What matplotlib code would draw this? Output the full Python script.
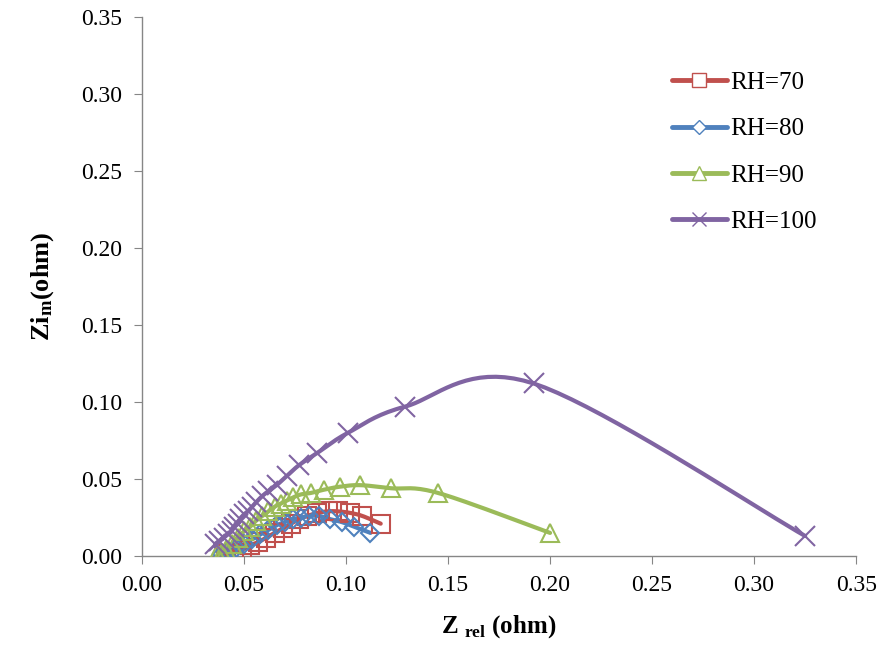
import numpy as np
import matplotlib
matplotlib.use("Agg")
import matplotlib.pyplot as plt

plt.rcParams['font.family'] = ['Liberation Serif', 'DejaVu Serif']
plt.rcParams['mathtext.fontset'] = 'custom'
plt.rcParams['mathtext.rm'] = 'Liberation Serif'
plt.rcParams['mathtext.bf'] = 'Liberation Serif:bold'

# Nyquist data (Z_real, Z_imag) in ohm
rh70_zre = [0.041, 0.045, 0.049, 0.053, 0.057, 0.061, 0.065, 0.069, 0.073, 0.077,
            0.081, 0.086, 0.091, 0.096, 0.102, 0.108, 0.117]
rh70_zim = [0.001, 0.002, 0.004, 0.007, 0.009, 0.012, 0.015, 0.018, 0.021, 0.024,
            0.026, 0.028, 0.029, 0.029, 0.028, 0.026, 0.021]

rh80_zre = [0.039, 0.042, 0.046, 0.050, 0.054, 0.058, 0.062, 0.066, 0.070, 0.074,
            0.078, 0.082, 0.087, 0.092, 0.098, 0.104, 0.112]
rh80_zim = [0.001, 0.003, 0.005, 0.008, 0.011, 0.014, 0.017, 0.020, 0.022, 0.024,
            0.025, 0.026, 0.026, 0.024, 0.022, 0.019, 0.015]

rh90_zre = [0.037, 0.039, 0.041, 0.044, 0.047, 0.050, 0.053, 0.056, 0.059, 0.062,
            0.065, 0.068, 0.071, 0.074, 0.078, 0.083, 0.089, 0.097, 0.107, 0.122,
            0.145, 0.200]
rh90_zim = [0.001, 0.002, 0.004, 0.008, 0.012, 0.016, 0.019, 0.023, 0.026, 0.029,
            0.032, 0.034, 0.036, 0.038, 0.040, 0.041, 0.043, 0.045, 0.046, 0.044,
            0.041, 0.015]

rh100_zre = [0.036, 0.038, 0.040, 0.042, 0.044, 0.045, 0.047, 0.048, 0.050, 0.052,
             0.054, 0.056, 0.059, 0.062, 0.066, 0.071, 0.077, 0.086, 0.101, 0.129,
             0.192, 0.325]
rh100_zim = [0.008, 0.010, 0.012, 0.014, 0.016, 0.019, 0.021, 0.024, 0.027, 0.029,
             0.032, 0.035, 0.039, 0.042, 0.046, 0.052, 0.059, 0.067, 0.080, 0.097,
             0.112, 0.013]

labels = ["RH=70", "RH=80", "RH=90", "RH=100"]
colors = ["#C0504D", "#4F81BD", "#9BBB59", "#8064A2"]
markers = ["s", "D", "^", "x"]
msizes = [13, 9, 13, 14]


def smooth(x, y, n=20):
    # Excel-like smoothed line (Catmull-Rom bezier through the points)
    x = np.asarray(x, float)
    y = np.asarray(y, float)
    px = np.concatenate([[x[0]], x, [x[-1]]])
    py = np.concatenate([[y[0]], y, [y[-1]]])
    xs, ys = [], []
    t = np.linspace(0, 1, n)
    for i in range(1, len(px) - 2):
        p0 = np.array([px[i], py[i]])
        p3 = np.array([px[i + 1], py[i + 1]])
        c1 = p0 + (np.array([px[i + 1], py[i + 1]]) - np.array([px[i - 1], py[i - 1]])) / 6
        c2 = p3 - (np.array([px[i + 2], py[i + 2]]) - np.array([px[i], py[i]])) / 6
        for tt in t:
            b = ((1 - tt) ** 3 * p0 + 3 * (1 - tt) ** 2 * tt * c1
                 + 3 * (1 - tt) * tt ** 2 * c2 + tt ** 3 * p3)
            xs.append(b[0])
            ys.append(b[1])
    return xs, ys


series = [(rh70_zre, rh70_zim), (rh80_zre, rh80_zim),
          (rh90_zre, rh90_zim), (rh100_zre, rh100_zim)]

fig = plt.figure(figsize=(8.79, 6.5), dpi=100)
ax = fig.add_axes([0.1615, 0.1446, 0.8125, 0.8294])

handles = []
for (zx, zy), lab, c, m, ms in zip(series, labels, colors, markers, msizes):
    sx, sy = smooth(zx, zy)
    ax.plot(sx, sy, color=c, lw=3, solid_capstyle='round', zorder=2)
    ax.plot(zx, zy, ls='none', marker=m, ms=ms, mfc='none', mec=c, mew=1.5, zorder=3)
    h, = ax.plot([], [], color=c, lw=3.5, marker=m, ms=ms * 0.75, mfc='white', mec=c,
                 mew=1.0, solid_capstyle='round')
    handles.append(h)

ax.set_xlim(0, 0.35)
ax.set_ylim(0, 0.35)
ax.set_xticks(np.arange(0, 0.351, 0.05))
ax.set_yticks(np.arange(0, 0.351, 0.05))
ax.xaxis.set_major_formatter(matplotlib.ticker.FormatStrFormatter('%.2f'))
ax.yaxis.set_major_formatter(matplotlib.ticker.FormatStrFormatter('%.2f'))

for s in ['top', 'right']:
    ax.spines[s].set_visible(False)
for s in ['left', 'bottom']:
    ax.spines[s].set_color('#868686')
    ax.spines[s].set_linewidth(1.0)
ax.tick_params(direction='out', length=6, color='#868686', labelsize=17,
               labelcolor='black', pad=8)

ax.set_xlabel(r'$\mathbf{Z}$ $_{\mathbf{rel}}$ (ohm)', fontsize=18, fontweight='bold',
              labelpad=12)
ax.set_ylabel(r'$\mathbf{Zi_m}$(ohm)', fontsize=19, fontweight='bold', labelpad=18)

ax.legend(handles, labels, loc='upper left', bbox_to_anchor=(0.71, 0.94), frameon=False,
          fontsize=18, numpoints=1, handlelength=2.2, handletextpad=0.15,
          labelspacing=0.95)

fig.savefig('out.png', dpi=100)
